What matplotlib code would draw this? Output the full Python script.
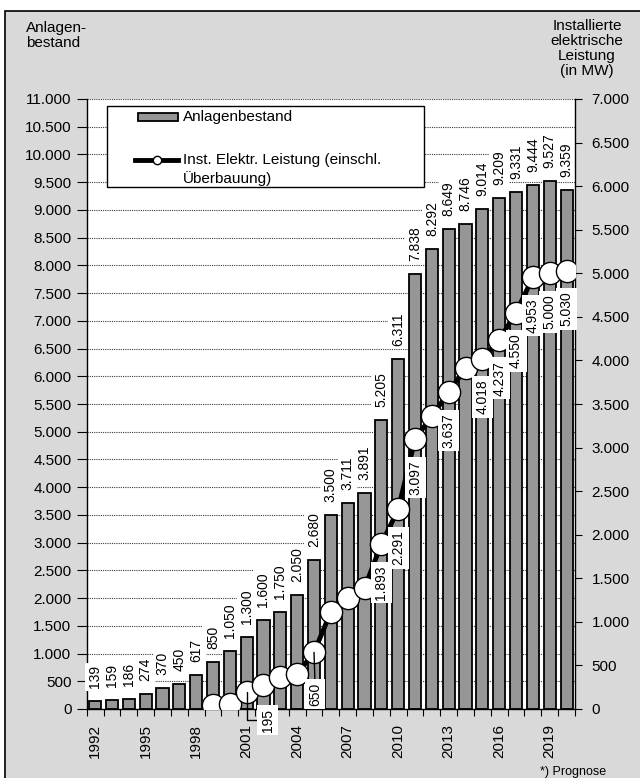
import matplotlib
matplotlib.use("Agg")
import matplotlib.pyplot as plt
from matplotlib.patches import Rectangle
from matplotlib.lines import Line2D
import numpy as np

plt.rcParams["font.family"] = ["Liberation Sans", "DejaVu Sans"]

# Anlagenbestand (number of plants) per year
years = list(range(1992, 2021))
anlagen = [139, 159, 186, 274, 370, 450, 617, 850, 1050, 1300, 1600, 1750,
           2050, 2680, 3500, 3711, 3891, 5205, 6311, 7838, 8292, 8649, 8746,
           9014, 9209, 9331, 9444, 9527, 9359]

# Installed electrical capacity in MW
leistung_years = list(range(1999, 2021))
leistung = [45, 60, 195, 275, 367, 402, 650, 1113, 1274, 1389, 1893, 2291,
            3097, 3360, 3637, 3910, 4018, 4237, 4550, 4953, 5000, 5030]
leistung_labelled = [2001, 2005, 2009, 2010, 2011, 2013, 2015, 2016, 2017,
                     2018, 2019, 2020]

left_ticks = list(range(0, 11001, 500))
right_ticks = list(range(0, 7001, 500))
year_ticks = years[::3]

W, H = 640, 778


def fmt(v):
    return f"{v:,}".replace(",", ".")


def fx(px):
    return px / W


def fy(py):
    return 1 - py / H


fig = plt.figure(figsize=(W / 100, H / 100), dpi=100, facecolor="white")

# grey chart frame
fig.patches.append(Rectangle((fx(5), -0.02), 1.0, fy(11) + 0.02,
                             transform=fig.transFigure, facecolor="#d9d9d9",
                             edgecolor="black", linewidth=1.2, zorder=-10))

ax = fig.add_axes([fx(86.7), fy(709), fx(575) - fx(86.7), fy(99) - fy(709)])
ax.set_facecolor("white")

x = np.arange(len(years))
ax.bar(x, anlagen, width=0.72, color="#969696", edgecolor="black",
       linewidth=1.3, zorder=2)
ax.set_xlim(-0.5, len(years) - 0.5)
ax.set_ylim(0, 11000)
ax.set_yticks(left_ticks)
ax.set_yticklabels([fmt(v) for v in left_ticks])
ax.yaxis.grid(True, color="#3a3a3a", linestyle=(0, (1, 1)), linewidth=0.8)
ax.set_axisbelow(True)

ax.set_xticks([years.index(y) for y in year_ticks])
ax.set_xticklabels([str(y) for y in year_ticks], rotation=90)
ax.set_xticks(np.arange(-0.5, len(years)), minor=True)
ax.tick_params(axis="x", which="major", length=0, pad=11, labelsize=11)
ax.tick_params(axis="x", which="minor", length=5, width=0.8, direction="out")
ax.tick_params(axis="y", direction="out", length=7, width=0.8, labelsize=11,
               pad=4)
for s in ("top", "right"):
    ax.spines[s].set_visible(False)
ax.spines["left"].set_linewidth(1.0)
ax.spines["bottom"].set_linewidth(1.0)

for xi, v in zip(x, anlagen):
    ax.annotate(fmt(v), xy=(xi, v), xytext=(0, 13), textcoords="offset pixels",
                rotation=90, ha="center", va="bottom", fontsize=10,
                bbox=dict(boxstyle="square,pad=0.2", fc="white", ec="none"),
                zorder=4)

ax2 = ax.twinx()
ax2.set_ylim(0, 7000)
ax2.set_yticks(right_ticks)
ax2.set_yticklabels([fmt(v) for v in right_ticks])
ax2.tick_params(axis="y", direction="out", length=5, width=0.8, labelsize=11,
                pad=7)
for s in ("top", "left", "bottom"):
    ax2.spines[s].set_visible(False)
ax2.spines["right"].set_linewidth(1.0)

xl = [years.index(y) for y in leistung_years]
ax2.plot(xl, leistung, color="black", linewidth=3.5, marker="o",
         markersize=16, markerfacecolor="white", markeredgecolor="black",
         markeredgewidth=1.0, zorder=3)

box = dict(boxstyle="square,pad=0.25", fc="white", ec="none")
for yr in leistung_labelled:
    i = leistung_years.index(yr)
    xi, v = xl[i], leistung[i]
    if yr == 2001:
        ax2.annotate(fmt(v), xy=(xi, v), xytext=(21, -28),
                     textcoords="offset pixels", rotation=90, ha="center",
                     va="center", fontsize=10, bbox=box, zorder=5,
                     arrowprops=dict(arrowstyle="-", color="black", lw=1,
                                     shrinkA=0, shrinkB=0, relpos=(0, 0.5),
                                     connectionstyle="angle,angleA=0,angleB=90,rad=0"))
    elif yr == 2005:
        ax2.annotate(fmt(v), xy=(xi, v), xytext=(1, -42),
                     textcoords="offset pixels", rotation=90, ha="center",
                     va="center", fontsize=10, bbox=box, zorder=5,
                     arrowprops=dict(arrowstyle="-", color="black", lw=1,
                                     shrinkA=0, shrinkB=0, relpos=(0.5, 1)))
    else:
        ax2.annotate(fmt(v), xy=(xi, v), xytext=(0, -21),
                     textcoords="offset pixels", rotation=90, ha="center",
                     va="top", fontsize=10, bbox=box, zorder=5)

# legend
fig.add_artist(Rectangle((fx(107), fy(187)), fx(424) - fx(107), fy(106) - fy(187),
                         transform=fig.transFigure, facecolor="white",
                         edgecolor="black", linewidth=1.0, zorder=10))
fig.add_artist(Rectangle((fx(138), fy(120.5)), fx(178) - fx(138), fy(113.5) - fy(120.5),
                         transform=fig.transFigure, facecolor="#969696",
                         edgecolor="black", linewidth=1.3, zorder=11))
fig.add_artist(Line2D([fx(135), fx(178)], [fy(160), fy(160)],
                      transform=fig.transFigure, color="black", linewidth=3.5,
                      zorder=11))
fig.add_artist(Line2D([fx(157)], [fy(160)], transform=fig.transFigure,
                      marker="o", markersize=6, markerfacecolor="white",
                      markeredgecolor="black", markeredgewidth=1.0,
                      linestyle="none", zorder=12))
fig.text(fx(183), fy(117), "Anlagenbestand", ha="left", va="center",
         fontsize=11, zorder=12)
fig.text(fx(183), fy(160), "Inst. Elektr. Leistung (einschl.", ha="left",
         va="center", fontsize=11, zorder=12)
fig.text(fx(183), fy(179), "Überbauung)", ha="left", va="center",
         fontsize=11, zorder=12)

# axis titles and footnote
fig.text(fx(26), fy(21), "Anlagen-\nbestand", ha="left", va="top",
         fontsize=11, linespacing=1.1)
fig.text(fx(587), fy(19), "Installierte\nelektrische\nLeistung\n(in MW)",
         ha="center", va="top", multialignment="center", fontsize=11,
         linespacing=1.1)
fig.text(fx(540), fy(772), "*) Prognose", ha="left", va="center", fontsize=9)

fig.savefig("out.png", dpi=100, facecolor="white")
